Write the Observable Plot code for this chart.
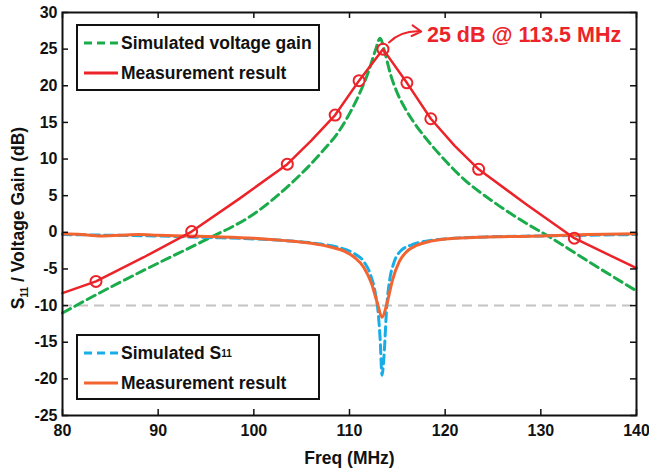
<!DOCTYPE html>
<html>
<head>
<meta charset="utf-8">
<script src="https://cdn.jsdelivr.net/npm/d3@7"></script>
<script src="https://cdn.jsdelivr.net/npm/@observablehq/plot@0.6"></script>
<style>
  body { margin: 0; background: white; }
  #wrap { position: relative; width: 649px; height: 469px; font-family: 'Liberation Sans', Arial, sans-serif; }
  .legend { position: absolute; background: white; border: 2px solid #111; box-sizing: border-box; font-weight: bold; font-size: 17.5px; color: #111; }
  .item { position: absolute; left: 5px; display: flex; align-items: center; height: 22px; white-space: nowrap; }
  .item svg { margin-right: 2px; }
  #ylabel { position: absolute; left: 19px; top: 218px; transform: translate(-50%, -50%) rotate(-90deg); white-space: nowrap; font-weight: bold; font-size: 17.5px; color: #111; }
  #ylabel sub { font-size: 10px; vertical-align: -4px; }
  .legend sub { font-size: 10px; vertical-align: -5px; }
</style>
</head>
<body>
<div id="wrap"></div>
<script>
// ---- data ----
const xTicks = [80, 90, 100, 110, 120, 130, 140];
const yTicks = [-25, -20, -15, -10, -5, 0, 5, 10, 15, 20, 25, 30];

const simGainFreq = [80, 85, 90, 95, 100, 104, 107, 109, 110, 111, 112, 112.7, 113.2, 113.7, 114.3, 115, 116, 117, 118, 120, 122, 125, 128, 131, 135, 140];
const simGain     = [-11, -7.5, -4.2, -1, 2.5, 6.8, 10.8, 14, 16.2, 18.8, 22, 24.8, 26.5, 24.5, 21.5, 19, 16.5, 14.5, 12.8, 9.8, 7.2, 4.2, 1.6, -0.7, -4, -8];

const measGainFreq = [80, 83.5, 88.5, 93.5, 98.5, 103.5, 106, 108.5, 111, 113.5, 116, 118.5, 121, 123.5, 128.5, 133.5, 140];
const measGain     = [-8.3, -6.7, -3.4, 0.1, 4.6, 9.3, 12.5, 16, 20.7, 25, 20.4, 15.5, 11.8, 8.6, 3.8, -0.8, -4.9];

const markerFreq = [83.5, 93.5, 103.5, 108.5, 111, 113.5, 116, 118.5, 123.5, 133.5];
const markerGain = [-6.7, 0.1, 9.3, 16, 20.7, 25, 20.4, 15.5, 8.6, -0.8];

const simS11Freq = [80, 85, 90, 95, 100, 104, 107, 109, 110.5, 111.5, 112.2, 112.7, 113.0, 113.2, 113.4, 113.6, 113.9, 114.2, 114.6, 115.3, 116.5, 118, 120, 125, 130, 135, 140];
const simS11     = [-0.3, -0.4, -0.5, -0.7, -0.9, -1.2, -1.6, -2.1, -2.9, -4, -5.8, -8.3, -11, -14.5, -19.5, -17, -10, -6.5, -4.3, -2.6, -1.7, -1.2, -0.9, -0.6, -0.5, -0.4, -0.3];

const measS11Freq = [80, 82, 84, 86, 88, 90, 93, 96, 100, 103, 106, 108, 109.5, 110.5, 111.5, 112.3, 112.9, 113.4, 113.9, 114.5, 115.2, 116, 117, 118.5, 120, 123, 126, 130, 135, 140];
const measS11     = [-0.2, -0.3, -0.5, -0.4, -0.3, -0.4, -0.5, -0.6, -0.8, -1.1, -1.5, -2.0, -2.6, -3.4, -4.8, -7.0, -9.6, -11.6, -9.8, -6.5, -4.0, -2.6, -1.8, -1.2, -0.9, -0.7, -0.6, -0.5, -0.3, -0.2];

const refLevel = [-10];

const annotation = [{x: 113.5, y: 25, ax: 117.5, ay: 27.4, label: "25 dB @ 113.5 MHz"}];

// colours
const cGreen = "#1aab4b", cRed = "#ec2329", cBlue = "#19ade8", cOrange = "#f26430";

const zip = (xs, ys) => xs.map((x, i) => ({x, y: ys[i]}));

const W = 649, H = 469, mL = 62, mR = 13, mT = 12, mB = 54;
const pxPerX = (W - mL - mR) / 60, pxPerY = (H - mT - mB) / 55;
const tickLen = 6;

const chart = Plot.plot({
  width: W, height: H,
  marginLeft: mL, marginRight: mR, marginTop: mT, marginBottom: mB,
  x: {domain: [80, 140]},
  y: {domain: [-25, 30]},
  style: {fontFamily: "'Liberation Sans', Arial, sans-serif", fontSize: "16px", fontWeight: "bold", color: "#111", background: "white"},
  marks: [
    Plot.ruleY(refLevel, {stroke: "#c4c4c4", strokeWidth: 2, strokeDasharray: "10,6"}),
    Plot.line(zip(simGainFreq, simGain), {x: "x", y: "y", stroke: cGreen, strokeWidth: 3, strokeDasharray: "9,5", curve: "monotone-x"}),
    Plot.line(zip(simS11Freq, simS11), {x: "x", y: "y", stroke: cBlue, strokeWidth: 3, strokeDasharray: "9,5", curve: "monotone-x"}),
    Plot.line(zip(measS11Freq, measS11), {x: "x", y: "y", stroke: cOrange, strokeWidth: 3, curve: "monotone-x"}),
    Plot.line(zip(measGainFreq, measGain), {x: "x", y: "y", stroke: cRed, strokeWidth: 2.5}),
    Plot.dot(zip(markerFreq, markerGain), {x: "x", y: "y", r: 5.5, stroke: cRed, strokeWidth: 2, fill: "none"}),
    Plot.arrow(annotation, {x1: "x", y1: "y", x2: "ax", y2: "ay", bend: 30, insetStart: 9, stroke: cRed, strokeWidth: 2, headLength: 8}),
    Plot.text(annotation, {x: "x", y: "y", text: "label", dx: 44, dy: -14, textAnchor: "start", fill: cRed, fontSize: 21.5, fontWeight: "bold"}),
    // inward ticks on all four sides
    Plot.ruleX(xTicks, {x: d => d, y1: -25, y2: -25 + tickLen / pxPerY, stroke: "#111", strokeWidth: 1.5}),
    Plot.ruleX(xTicks, {x: d => d, y1: 30, y2: 30 - tickLen / pxPerY, stroke: "#111", strokeWidth: 1.5}),
    Plot.ruleY(yTicks, {y: d => d, x1: 80, x2: 80 + tickLen / pxPerX, stroke: "#111", strokeWidth: 1.5}),
    Plot.ruleY(yTicks, {y: d => d, x1: 140, x2: 140 - tickLen / pxPerX, stroke: "#111", strokeWidth: 1.5}),
    Plot.axisX(xTicks, {tickSize: 0, tickPadding: 9, tickFormat: d => String(d), fontSize: 16, label: null}),
    Plot.axisX({ticks: [], tickSize: 0, label: "Freq (MHz)", labelAnchor: "center", labelArrow: "none", labelOffset: 48, fontSize: 17.5}),
    Plot.axisY(yTicks, {tickSize: 0, tickPadding: 5, tickFormat: d => String(d), fontSize: 16, label: null}),
    Plot.frame({stroke: "#111", strokeWidth: 2})
  ]
});

const wrap = document.getElementById("wrap");
wrap.appendChild(chart);

function swatch(color, dashed) {
  return `<svg width="36" height="6"><line x1="1" y1="3" x2="35" y2="3" stroke="${color}" stroke-width="3" ${dashed ? 'stroke-dasharray="8,5"' : ''}/></svg>`;
}
const topLegend = document.createElement("div");
topLegend.className = "legend";
Object.assign(topLegend.style, {left: "76px", top: "24px", width: "244px", height: "67px"});
topLegend.innerHTML = `<div class="item" style="top:6px">${swatch(cGreen, true)}Simulated voltage gain</div>
<div class="item" style="top:36px">${swatch(cRed, false)}Measurement result</div>`;
wrap.appendChild(topLegend);

const botLegend = document.createElement("div");
botLegend.className = "legend";
Object.assign(botLegend.style, {left: "76px", top: "334px", width: "244px", height: "66px"});
botLegend.innerHTML = `<div class="item" style="top:6px">${swatch(cBlue, true)}Simulated S<sub>11</sub></div>
<div class="item" style="top:36px">${swatch(cOrange, false)}Measurement result</div>`;
wrap.appendChild(botLegend);

const yl = document.createElement("div");
yl.id = "ylabel";
yl.innerHTML = "S<sub>11</sub> / Voltage Gain (dB)";
wrap.appendChild(yl);
</script>
</body>
</html>
